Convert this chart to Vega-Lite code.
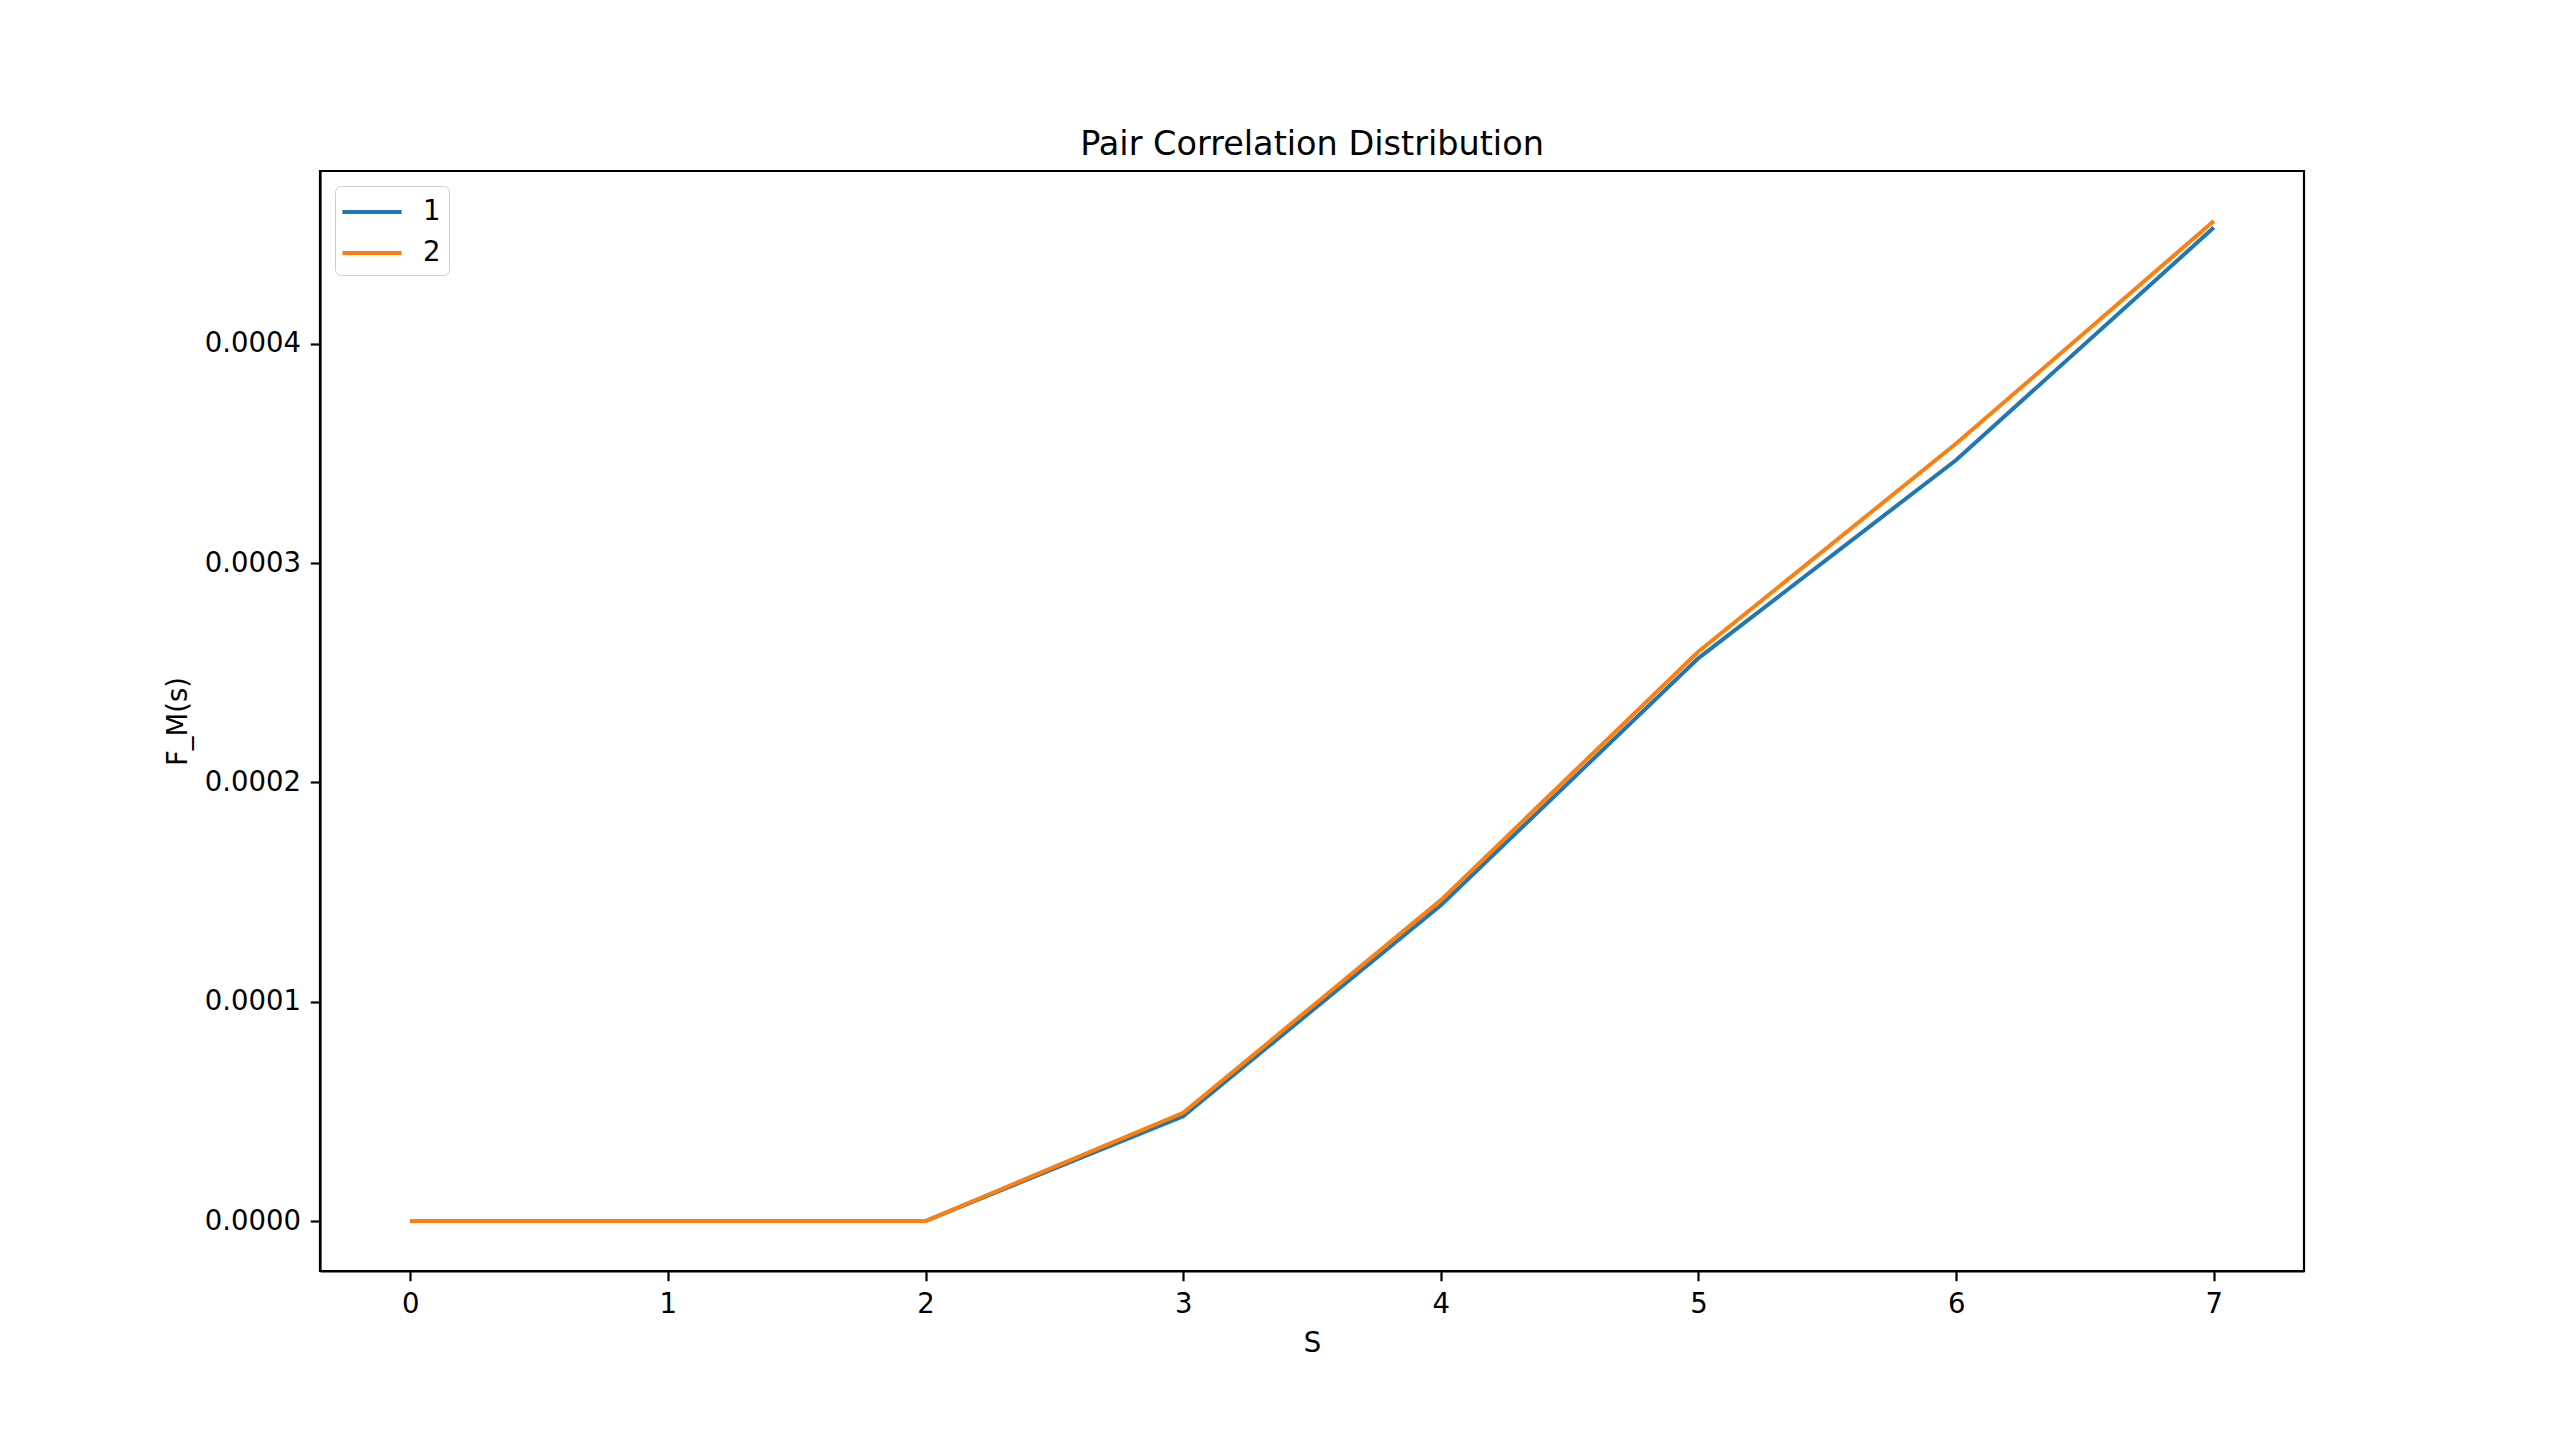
{
  "$schema": "https://vega.github.io/schema/vega-lite/v6.json",
  "autosize": "none",
  "width": 1984,
  "height": 1100,
  "padding": {"left": 320, "top": 171, "right": 256, "bottom": 159},
  "background": "white",
  "title": {
    "text": "Pair Correlation Distribution",
    "anchor": "middle",
    "font": "DejaVu Sans",
    "fontSize": 33.5,
    "fontWeight": "normal",
    "color": "black",
    "offset": 9
  },
  "config": {
    "font": "DejaVu Sans",
    "view": {"stroke": "black", "strokeWidth": 2.2},
    "axis": {
      "grid": false,
      "domainColor": "black",
      "domainWidth": 2.2,
      "tickColor": "black",
      "tickWidth": 2.2,
      "tickSize": 9.7,
      "labelPadding": 9.7,
      "labelFont": "DejaVu Sans",
      "labelFontSize": 27.5,
      "labelColor": "black",
      "titleFont": "DejaVu Sans",
      "titleFontSize": 27.5,
      "titleFontWeight": "normal",
      "titleColor": "black"
    }
  },
  "data": {
    "values": [
      {"s": 0, "value": 0, "series": "1"},
      {"s": 1, "value": 0, "series": "1"},
      {"s": 2, "value": 0, "series": "1"},
      {"s": 3, "value": 0.0000478, "series": "1"},
      {"s": 4, "value": 0.000144, "series": "1"},
      {"s": 5, "value": 0.0002567, "series": "1"},
      {"s": 6, "value": 0.000347, "series": "1"},
      {"s": 7, "value": 0.000453, "series": "1"},
      {"s": 0, "value": 0, "series": "2"},
      {"s": 1, "value": 0, "series": "2"},
      {"s": 2, "value": 0, "series": "2"},
      {"s": 3, "value": 0.0000493, "series": "2"},
      {"s": 4, "value": 0.0001463, "series": "2"},
      {"s": 5, "value": 0.0002597, "series": "2"},
      {"s": 6, "value": 0.0003545, "series": "2"},
      {"s": 7, "value": 0.000456, "series": "2"}
    ]
  },
  "mark": {"type": "line", "strokeWidth": 4, "clip": true},
  "encoding": {
    "x": {
      "field": "s",
      "type": "quantitative",
      "scale": {"domain": [-0.35, 7.35], "nice": false, "zero": false},
      "axis": {"values": [0, 1, 2, 3, 4, 5, 6, 7], "format": "d", "title": "S", "titlePadding": 12}
    },
    "y": {
      "field": "value",
      "type": "quantitative",
      "scale": {"domain": [-0.0000228, 0.0004788], "nice": false, "zero": false},
      "axis": {"values": [0, 0.0001, 0.0002, 0.0003, 0.0004], "format": ".4f", "title": "F_M(s)", "titlePadding": 12}
    },
    "color": {
      "field": "series",
      "type": "nominal",
      "scale": {"domain": ["1", "2"], "range": ["#1f77b4", "#ff7f0e"]},
      "legend": {
        "title": null,
        "orient": "none",
        "legendX": 15,
        "legendY": 15,
        "symbolType": "M-1.87,0H1.87",
        "symbolSize": 1000,
        "symbolStrokeWidth": 4,
        "symbolOffset": 11,
        "labelFont": "DejaVu Sans",
        "labelFontSize": 27.5,
        "labelColor": "black",
        "labelOffset": 33,
        "rowPadding": 9,
        "padding": 8,
        "strokeColor": "#cccccc",
        "cornerRadius": 6,
        "fillColor": "white"
      }
    }
  }
}
